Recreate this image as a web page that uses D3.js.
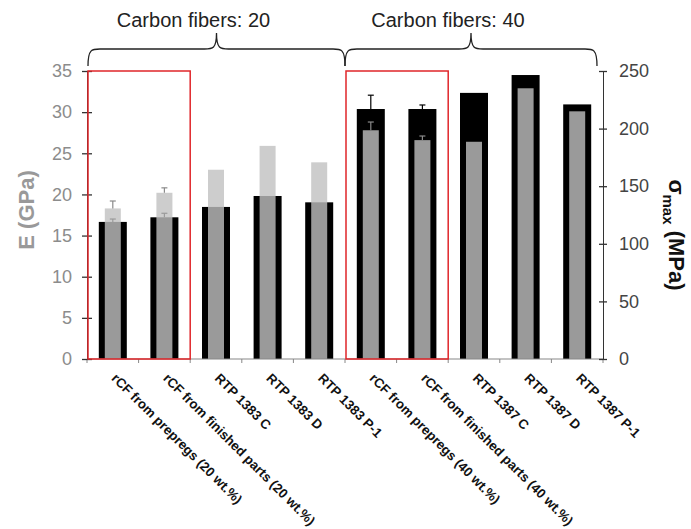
<!DOCTYPE html>
<html><head><meta charset="utf-8">
<script src="https://cdn.jsdelivr.net/npm/d3@7"></script>
<style>
html,body{margin:0;padding:0;background:#fff;}
svg{display:block;font-family:"Liberation Sans",Arial,sans-serif;}
</style></head>
<body><svg id="chart" width="691" height="529"></svg>
<script>
const categories = [
  "rCF from prepregs (20 wt.%)",
  "rCF from finished parts (20 wt.%)",
  "RTP 1383 C",
  "RTP 1383 D",
  "RTP 1383 P-1",
  "rCF from prepregs (40 wt.%)",
  "rCF from finished parts (40 wt.%)",
  "RTP 1387 C",
  "RTP 1387 D",
  "RTP 1387 P-1"
];
const sigmaMax = [119, 123, 132, 141.5, 136, 217, 217, 231, 246.5, 221];
const sigmaErr = [2.5, 3.5, 0, 0, 0, 12, 3.5, 0, 0, 0];
const modulusE = [18.3, 20.2, 23.0, 25.9, 23.9, 27.8, 26.6, 26.4, 32.9, 30.1];
const modulusErr = [0.9, 0.6, 0, 0, 0, 1.0, 0.5, 0, 0, 0];
const leftTicks = [0, 5, 10, 15, 20, 25, 30, 35];
const rightTicks = [0, 50, 100, 150, 200, 250];
const groups = [
  {label: "Carbon fibers: 20", from: 0, to: 4},
  {label: "Carbon fibers: 40", from: 5, to: 9}
];
const highlighted = [[0, 1], [5, 6]];

const svg = d3.select("#chart");
const L = 87, R = 603, T = 71, B = 359;

const x = d3.scaleBand().domain(categories).range([L, R]).padding(0);
const yE = d3.scaleLinear().domain([0, 35]).range([B, T]);
const yS = d3.scaleLinear().domain([0, 250]).range([B, T]);
const bw = x.bandwidth();
const blackW = 28, grayW = 16;

const data = categories.map((c, i) => ({c, s: sigmaMax[i], se: sigmaErr[i], e: modulusE[i], ee: modulusErr[i]}));

svg.append("g").selectAll("rect").data(data).join("rect")
  .attr("x", d => x(d.c) + bw / 2 - blackW / 2)
  .attr("width", blackW)
  .attr("y", d => yS(d.s))
  .attr("height", d => B - yS(d.s))
  .attr("fill", "#000");

const se = svg.append("g").attr("stroke", "#000").attr("stroke-width", 1.2);
data.filter(d => d.se > 0).forEach(d => {
  const cx = x(d.c) + bw / 2;
  se.append("line").attr("x1", cx).attr("x2", cx).attr("y1", yS(d.s)).attr("y2", yS(d.s + d.se));
  se.append("line").attr("x1", cx - 3).attr("x2", cx + 3).attr("y1", yS(d.s + d.se)).attr("y2", yS(d.s + d.se));
});

svg.append("g").selectAll("rect").data(data).join("rect")
  .attr("x", d => x(d.c) + bw / 2 - grayW / 2)
  .attr("width", grayW)
  .attr("y", d => yE(d.e))
  .attr("height", d => B - yE(d.e))
  .attr("fill", "rgb(192,192,192)")
  .attr("fill-opacity", 0.8);

const ee = svg.append("g").attr("stroke", "#8a8a8a").attr("stroke-width", 1.2);
data.filter(d => d.ee > 0).forEach(d => {
  const cx = x(d.c) + bw / 2;
  ee.append("line").attr("x1", cx).attr("x2", cx).attr("y1", yE(d.e)).attr("y2", yE(d.e + d.ee));
  ee.append("line").attr("x1", cx - 3).attr("x2", cx + 3).attr("y1", yE(d.e + d.ee)).attr("y2", yE(d.e + d.ee));
});

// x axis
const xAxisG = svg.append("g").attr("transform", `translate(0,${B})`);
xAxisG.append("line").attr("x1", L).attr("x2", R).attr("stroke", "#888").attr("stroke-width", 1.2);
xAxisG.selectAll("line.tk").data(d3.range(categories.length + 1)).join("line").attr("class", "tk")
  .attr("x1", i => L + i * bw).attr("x2", i => L + i * bw).attr("y1", 0).attr("y2", 4)
  .attr("stroke", "#888");
xAxisG.selectAll("text").data(categories).join("text")
  .attr("transform", c => `translate(${x(c) + bw / 2 - 2},${20}) rotate(45)`)
  .attr("font-size", 13.3).attr("font-weight", "bold").attr("fill", "#111")
  .text(c => c);

// left axis
const leftG = svg.append("g").attr("transform", `translate(${L},0)`);
leftG.call(d3.axisLeft(yE).tickValues(d3.range(0, 36, 1)).tickSize(3).tickFormat(""))
  .call(g => g.select(".domain").remove())
  .call(g => g.selectAll(".tick line").attr("stroke", "#333").attr("x2", -3).attr("x1", 1));
leftG.call(d3.axisLeft(yE).tickValues(leftTicks).tickSize(5).tickPadding(10))
  .call(g => g.select(".domain").attr("stroke", "#333"))
  .call(g => g.selectAll(".tick line").attr("stroke", "#333").attr("x1", 5).attr("stroke-width", 1.3))
  .call(g => g.selectAll(".tick text").attr("font-size", 18).attr("fill", "#8c8c8c").attr("font-family", "Liberation Sans, Arial, sans-serif"));

// right axis
const rightG = svg.append("g").attr("transform", `translate(${R},0)`);
rightG.call(d3.axisRight(yS).tickValues(d3.range(0, 251, 10)).tickSize(2).tickFormat(""))
  .call(g => g.select(".domain").remove())
  .call(g => g.selectAll(".tick line").attr("stroke", "#333").attr("x1", -2));
rightG.call(d3.axisRight(yS).tickValues(rightTicks).tickSize(4).tickPadding(12))
  .call(g => g.select(".domain").attr("stroke", "#333"))
  .call(g => g.selectAll(".tick line").attr("stroke", "#333").attr("x1", -4).attr("stroke-width", 1.3))
  .call(g => g.selectAll(".tick text").attr("font-size", 18).attr("fill", "#444").attr("font-family", "Liberation Sans, Arial, sans-serif"));

// red highlight boxes
svg.append("g").selectAll("rect").data(highlighted).join("rect")
  .attr("x", d => x(categories[d[0]]) + 1)
  .attr("width", d => x(categories[d[1]]) + bw - x(categories[d[0]]) - 1)
  .attr("y", T).attr("height", B - T)
  .attr("fill", "none").attr("stroke", "#e0262a").attr("stroke-width", 1.5);

// axis titles
svg.append("text").attr("transform", `translate(34,${(T + B) / 2 - 5}) rotate(-90)`)
  .attr("text-anchor", "middle").attr("font-size", 22).attr("font-weight", "bold").attr("fill", "#999")
  .text("E (GPa)");
const rt = svg.append("text").attr("transform", `translate(669,${(T + B) / 2 + 20}) rotate(90)`)
  .attr("text-anchor", "middle").attr("font-size", 22).attr("font-weight", "bold").attr("fill", "#111");
rt.append("tspan").text("σ");
rt.append("tspan").attr("font-size", 15).attr("dy", 6).text("max");
rt.append("tspan").attr("dy", -6).text(" (MPa)");

// braces
function bracePath(x0, x1, yEnd, yMid, yTip) {
  const xm = (x0 + x1) / 2;
  const r = 12;
  return `M${x0},${yEnd} C${x0},${yMid} ${x0 + 4},${yMid} ${x0 + r},${yMid}`
    + ` L${xm - r},${yMid} C${xm - 4},${yMid} ${xm},${yMid} ${xm},${yTip}`
    + ` C${xm},${yMid} ${xm + 4},${yMid} ${xm + r},${yMid}`
    + ` L${x1 - r},${yMid} C${x1 - 4},${yMid} ${x1},${yMid} ${x1},${yEnd}`;
}
const bg = svg.append("g");
groups.forEach((g, i) => {
  const x0 = x(categories[g.from]) + (i === 0 ? 1 : 0);
  const x1 = x(categories[g.to]) + bw - (i === groups.length - 1 ? 6 : 0);
  bg.append("path").attr("d", bracePath(x0, x1, 66, 49, 33))
    .attr("fill", "none").attr("stroke", "#222").attr("stroke-width", 1.3);
  bg.append("text").attr("x", (x0 + x1) / 2 - 23).attr("y", 27)
    .attr("text-anchor", "middle").attr("font-size", 20).attr("fill", "#222")
    .text(g.label);
});
</script></body></html>
